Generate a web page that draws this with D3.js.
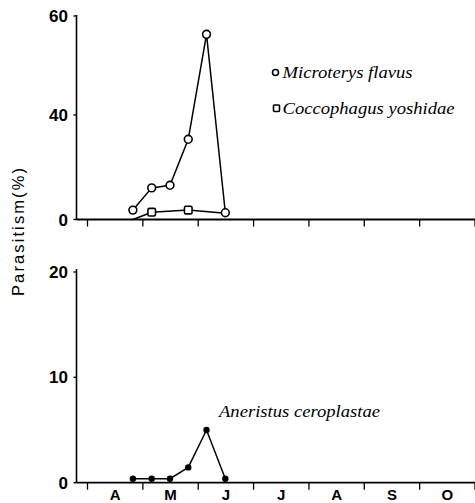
<!DOCTYPE html>
<html><head><meta charset="utf-8">
<script src="https://cdn.jsdelivr.net/npm/d3@7"></script>
<style>body{margin:0;background:#fff}svg{display:block}</style>
</head><body>
<script>
// sampling dates as fractional month numbers (April = 4)
const dates = [4.82, 5.16, 5.49, 5.82, 6.15, 6.49];
const microterys = [3.6, 12.1, 13.1, 30.7, 56.3, 2.6];
const coccophagusIdx = [0, 1, 3, 5];
const coccophagus = [0, 2.8, 3.6, 2.4];
const aneristus = [0.38, 0.38, 0.38, 1.45, 5.0, 0.38];
const monthTicks = [4, 5, 6, 7, 8, 9, 10, 11];
const monthLabels = ["A", "M", "J", "J", "A", "S", "O"];
const topTicks = [0, 40, 60];
const bottomTicks = [0, 10, 20];

const W = 475, H = 503;
const svg = d3.select("body").append("svg").attr("width", W).attr("height", H);

const x = d3.scaleLinear().domain([4, 11]).range([87.5, 475]);
const yTop = d3.scaleLinear().domain([0, 40, 60]).range([219.5, 115, 16]);
const yBot = d3.scaleLinear().domain([0, 20]).range([482.7, 272]);
const axisX = 76.5;

function drawAxes(y, ticks, zeroY, topY) {
  const g = svg.append("g");
  g.append("line").attr("x1", axisX).attr("x2", axisX).attr("y1", topY).attr("y2", zeroY)
    .attr("stroke", "#000").attr("stroke-width", 1.6);
  g.append("line").attr("x1", axisX).attr("x2", 475).attr("y1", zeroY).attr("y2", zeroY)
    .attr("stroke", "#000").attr("stroke-width", 1.8);
  g.selectAll("line.yt").data(ticks).join("line").attr("class", "yt")
    .attr("x1", axisX - 3).attr("x2", axisX).attr("y1", d => y(d)).attr("y2", d => y(d))
    .attr("stroke", "#000").attr("stroke-width", 1.4);
  g.selectAll("text.yl").data(ticks).join("text").attr("class", "yl")
    .attr("x", 68).attr("y", d => y(d)).attr("dy", "0.36em")
    .attr("text-anchor", "end").attr("font-family", "Liberation Sans, Arial, sans-serif")
    .attr("font-weight", "bold").attr("font-size", 17).text(d => d);
  g.selectAll("line.xt").data(monthTicks).join("line").attr("class", "xt")
    .attr("x1", d => x(d)).attr("x2", d => x(d)).attr("y1", zeroY).attr("y2", zeroY + 7)
    .attr("stroke", "#000").attr("stroke-width", 1.3);
}
drawAxes(yTop, topTicks, yTop(0), 15);
drawAxes(yBot, bottomTicks, yBot(0), 269);

svg.selectAll("text.month").data(monthLabels).join("text").attr("class", "month")
  .attr("x", (d, i) => x(4.5 + i)).attr("y", 500)
  .attr("text-anchor", "middle").attr("font-family", "Liberation Sans, Arial, sans-serif")
  .attr("font-weight", "bold").attr("font-size", 15).text(d => d);

svg.append("text").attr("transform", "translate(24,232) rotate(-90)")
  .attr("text-anchor", "middle").attr("font-family", "Liberation Sans, Arial, sans-serif")
  .attr("font-size", 16.5).attr("textLength", 128).attr("lengthAdjust", "spacing")
  .text("Parasitism(%)");

const line = d3.line().x(d => x(d[0])).y(d => d[1]);

// Coccophagus
const cData = coccophagusIdx.map((k, i) => [dates[k], yTop(coccophagus[i]), coccophagus[i], k]);
svg.append("path").attr("d", line(cData)).attr("fill", "none").attr("stroke", "#000").attr("stroke-width", 1.5);
// Microterys
const mData = dates.map((d, i) => [d, yTop(microterys[i]), microterys[i]]);
svg.append("path").attr("d", line(mData)).attr("fill", "none").attr("stroke", "#000").attr("stroke-width", 1.5);

// squares hidden where value is zero or where a Microterys circle sits on top
svg.selectAll("rect.c").data(cData.filter(d => d[2] > 0 && Math.abs(microterys[d[3]] - d[2]) > 0.5))
  .join("rect").attr("class", "c")
  .attr("x", d => x(d[0]) - 3.8).attr("y", d => d[1] - 3.8).attr("width", 7.6).attr("height", 7.6)
  .attr("rx", 1.5).attr("fill", "#fff").attr("stroke", "#000").attr("stroke-width", 1.6);
svg.selectAll("circle.m").data(mData).join("circle").attr("class", "m")
  .attr("cx", d => x(d[0])).attr("cy", d => d[1]).attr("r", 3.9)
  .attr("fill", "#fff").attr("stroke", "#000").attr("stroke-width", 1.6);

// Aneristus
const aData = dates.map((d, i) => [d, yBot(aneristus[i])]);
svg.append("path").attr("d", line(aData)).attr("fill", "none").attr("stroke", "#000").attr("stroke-width", 1.5);
svg.selectAll("circle.a").data(aData).join("circle").attr("class", "a")
  .attr("cx", d => x(d[0])).attr("cy", d => d[1]).attr("r", 3.2).attr("fill", "#000");

// legend
const serif = "Liberation Serif, Times New Roman, serif";
svg.append("circle").attr("cx", 275.5).attr("cy", 72.5).attr("r", 3).attr("fill", "#fff")
  .attr("stroke", "#000").attr("stroke-width", 1.6);
svg.append("text").attr("x", 282.5).attr("y", 77.5).attr("font-family", serif).attr("font-style", "italic")
  .attr("font-size", 16).attr("textLength", 130).attr("lengthAdjust", "spacingAndGlyphs").text("Microterys flavus");
svg.append("rect").attr("x", 273.5).attr("y", 105).attr("width", 6).attr("height", 6.5).attr("rx", 1)
  .attr("fill", "#fff").attr("stroke", "#000").attr("stroke-width", 1.6);
svg.append("text").attr("x", 282.5).attr("y", 113.5).attr("font-family", serif).attr("font-style", "italic")
  .attr("font-size", 16).attr("textLength", 172).attr("lengthAdjust", "spacingAndGlyphs").text("Coccophagus yoshidae");
svg.append("text").attr("x", 219).attr("y", 416.5).attr("font-family", serif).attr("font-style", "italic")
  .attr("font-size", 16).attr("textLength", 161).attr("lengthAdjust", "spacingAndGlyphs").text("Aneristus ceroplastae");
</script>
</body></html>
